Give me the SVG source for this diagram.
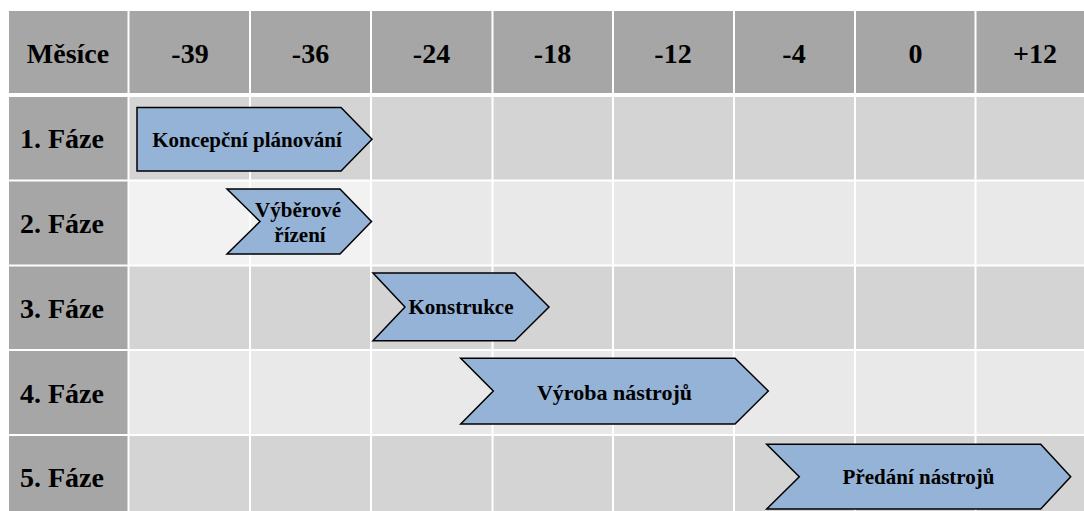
<svg xmlns="http://www.w3.org/2000/svg" width="1084" height="511" viewBox="0 0 1084 511">
<style>
.hd{fill:#a6a6a6}
.od{fill:#d4d4d4}
.ev{fill:#e9e9e9}
.lt{fill:#f2f2f2}
.t{font-family:'Liberation Serif','DejaVu Serif',serif;font-weight:bold;fill:#000}
.h{font-size:28px;text-anchor:middle}
.r{font-size:28px}
.a{font-size:21px;text-anchor:middle}
.ar{fill:#95b3d7;stroke:#000;stroke-width:1.5;stroke-linejoin:miter}
</style>
<rect width="1084" height="511" fill="#fff"/>
<g id="header">
<rect class="hd" x="9" y="11" width="118.5" height="82"/>
<rect class="hd" x="129.5" y="11" width="119.5" height="82"/>
<rect class="hd" x="251" y="11" width="119" height="82"/>
<rect class="hd" x="372" y="11" width="119.5" height="82"/>
<rect class="hd" x="493.5" y="11" width="118.5" height="82"/>
<rect class="hd" x="614" y="11" width="119" height="82"/>
<rect class="hd" x="735" y="11" width="119" height="82"/>
<rect class="hd" x="856" y="11" width="118.5" height="82"/>
<rect class="hd" x="976.5" y="11" width="108" height="82"/>
<text class="t h" x="68" y="63" font-family="Liberation Serif, serif">Měsíce</text>
<text class="t h" x="190" y="63">-39</text>
<text class="t h" x="310.5" y="63">-36</text>
<text class="t h" x="431.5" y="63">-24</text>
<text class="t h" x="552.5" y="63">-18</text>
<text class="t h" x="673" y="63">-12</text>
<text class="t h" x="794" y="63">-4</text>
<text class="t h" x="915.5" y="63">0</text>
<text class="t h" x="1035" y="63">+12</text>
</g>
<g id="rows">
<g id="row1">
<rect class="hd" x="9" y="97" width="118.5" height="82.5"/>
<rect class="od" x="129.5" y="97" width="954.5" height="82.5"/>
<text class="t r" x="20" y="148">1. Fáze</text>
</g>
<g id="row2">
<rect class="hd" x="9" y="181.5" width="118.5" height="83"/>
<rect class="lt" x="129.5" y="181.5" width="240.5" height="83"/>
<rect class="ev" x="372" y="181.5" width="712" height="83"/>
<text class="t r" x="20" y="233">2. Fáze</text>
</g>
<g id="row3">
<rect class="hd" x="9" y="266.5" width="118.5" height="82.5"/>
<rect class="od" x="129.5" y="266.5" width="954.5" height="82.5"/>
<text class="t r" x="20" y="318">3. Fáze</text>
</g>
<g id="row4">
<rect class="hd" x="9" y="351" width="118.5" height="83"/>
<rect class="ev" x="129.5" y="351" width="954.5" height="83"/>
<text class="t r" x="20" y="403">4. Fáze</text>
</g>
<g id="row5">
<rect class="hd" x="9" y="436" width="118.5" height="75"/>
<rect class="od" x="129.5" y="436" width="954.5" height="75"/>
<text class="t r" x="20" y="487">5. Fáze</text>
</g>
</g>
<g id="gridlines" stroke="#fff" stroke-width="2">
<line x1="250" y1="97" x2="250" y2="511"/>
<line x1="371" y1="97" x2="371" y2="511"/>
<line x1="492.5" y1="97" x2="492.5" y2="511"/>
<line x1="613" y1="97" x2="613" y2="511"/>
<line x1="734" y1="97" x2="734" y2="511"/>
<line x1="855" y1="97" x2="855" y2="511"/>
<line x1="975.5" y1="97" x2="975.5" y2="511"/>
</g>
<g id="phase1">
<polygon class="ar" points="137,107.5 341,107.5 372,139.25 341,171 137,171"/>
<text class="t a" x="247" y="147">Koncepční plánování</text>
</g>
<g id="phase2">
<polygon class="ar" points="227,189 340,189 371.5,221.5 340,254 227,254 260,221.5"/>
<text class="t a" x="298" y="216.5">Výběrové</text>
<text class="t a" x="300" y="241.5">řízení</text>
</g>
<g id="phase3">
<polygon class="ar" points="373,273 515,273 549,307 515,340.7 373,340.7 405,307"/>
<text class="t a" x="461" y="314">Konstrukce</text>
</g>
<g id="phase4">
<polygon class="ar" points="460.7,358.3 735,358.3 768.3,391 735,424 460.7,424 493.3,391"/>
<text class="t a" x="614.5" y="399.5" style="font-size:22px">Výroba nástrojů</text>
</g>
<g id="phase5">
<polygon class="ar" points="766.7,444.3 1040.7,444.3 1070.7,476.7 1040.7,509 766.7,509 799.3,476.7"/>
<text class="t a" x="918.5" y="484">Předání nástrojů</text>
</g>
<g id="connectors"/>
</svg>
